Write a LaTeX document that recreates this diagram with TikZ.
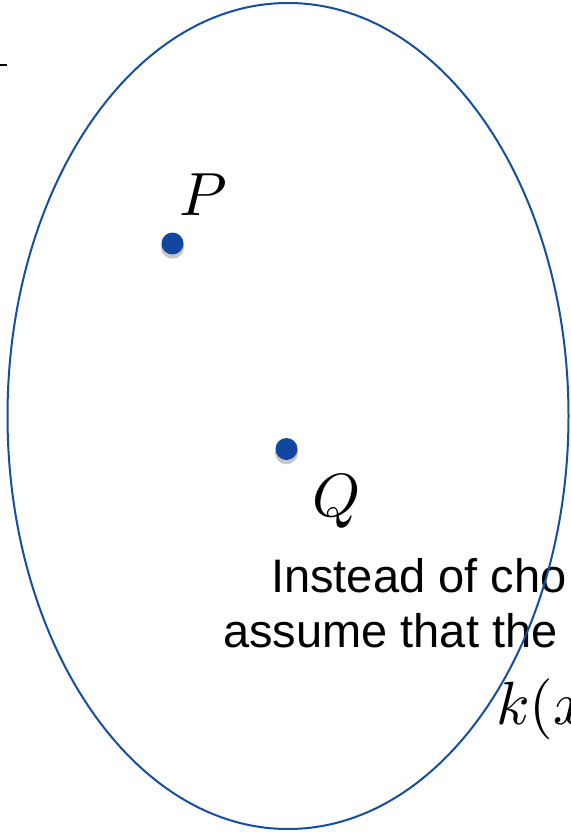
\documentclass[tikz,border=0pt]{standalone}
\usepackage{fontspec}
\newfontfamily\arialfont{Liberation Sans}
\usetikzlibrary{shadows,shapes.geometric}
\definecolor{dotblue}{RGB}{18,70,160}
\definecolor{lineblue}{RGB}{22,78,158}
\newcommand{\bigmath}[1]{\scalebox{6.1}{$#1$}}
\tikzset{
  pointdot/.style={circle, fill=dotblue, minimum size=22pt, inner sep=0pt,
    drop shadow={shadow xshift=0pt, shadow yshift=-3.5pt, shadow scale=1.05, opacity=0.22, fill=black}},
  mathlabel/.style={inner sep=0pt, anchor=base west},
  bodytext/.style={inner sep=0pt, anchor=base west, font=\arialfont\fontsize{47}{54}\selectfont},
  setline/.style={draw=lineblue, line width=2pt, ellipse, inner sep=0pt},
}
\begin{document}
\begin{tikzpicture}[x=1pt,y=-1pt]
\useasboundingbox (0,0) rectangle (570,832);
\clip (0,0) rectangle (570,832);
\fill[white] (0,0) rectangle (570,832);
\coordinate (tickA) at (0,65);
\coordinate (tickB) at (7,65);
\draw[line width=2.2pt] (tickA) -- (tickB);
\node[pointdot] (P) at (172.5,243.5) {};
\node[pointdot] (Q) at (286.5,449) {};
\node[mathlabel] (Plab) at (179,215) {\bigmath{P}};
\node[mathlabel] (Qlab) at (312,516) {\bigmath{Q}};
\node[bodytext] (line1) at (271,592) {Instead of cho};
\node[bodytext] (line2) at (223,647) {assume that the};
\node[mathlabel] (kx) at (496,724) {\bigmath{k(x}};
\node[setline, minimum width=561pt, minimum height=826pt] (set) at (288,416) {};
\end{tikzpicture}
\end{document}
